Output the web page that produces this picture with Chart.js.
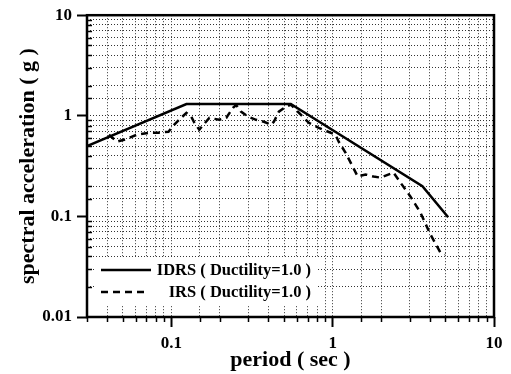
<!DOCTYPE html>
<html>
<head>
<meta charset="utf-8">
<script src="https://cdn.jsdelivr.net/npm/chart.js@4/dist/chart.umd.min.js"></script>
<style>
  html, body { margin: 0; padding: 0; background: #fff; }
  canvas { display: block; }
</style>
</head>
<body>
<canvas id="chart" width="511" height="374"></canvas>
<script>
// values (log-log)
const idrsPeriod = [0.03, 0.124, 0.55, 3.6, 5.2];
const idrsAccel = [0.5, 1.31, 1.31, 0.2, 0.098];

const irsPeriod = [0.041, 0.046, 0.051, 0.061, 0.073, 0.083, 0.096, 0.104, 0.115, 0.124, 0.133, 0.139,
  0.149, 0.158, 0.172, 0.198, 0.219, 0.241, 0.252, 0.27, 0.299, 0.335, 0.375, 0.414, 0.432, 0.464,
  0.513, 0.551, 0.653, 0.711, 0.82, 1.04, 1.09, 1.2, 1.33, 1.43, 1.6, 1.79, 1.98, 2.38, 2.63, 3.03,
  3.49, 4.03, 4.64, 4.99];
const irsAccel = [0.648, 0.553, 0.578, 0.648, 0.679, 0.679, 0.695, 0.815, 0.955, 1.07, 0.978, 0.853,
  0.727, 0.815, 0.955, 0.912, 0.955, 1.2, 1.28, 1.1, 0.978, 0.912, 0.873, 0.815, 0.873, 1.1,
  1.23, 1.29, 0.978, 0.853, 0.76, 0.648, 0.553, 0.431, 0.313, 0.249, 0.261, 0.249, 0.243, 0.273, 0.217, 0.158,
  0.11, 0.0664, 0.0441, 0.0421];

const seriesNames = ['IDRS ( Ductility=1.0 )', 'IRS ( Ductility=1.0 )'];
const xTickLabels = ['0.1', '1', '10'];
const yTickLabels = ['0.01', '0.1', '1', '10'];

const FONT = '"Liberation Serif", "Times New Roman", serif';

function pairs(xs, ys) {
  return xs.map((x, i) => ({ x: x, y: ys[i] }));
}
function isPow10(v) {
  const l = Math.log10(v);
  return Math.abs(l - Math.round(l)) < 1e-6;
}
function labelFor(list, v) {
  const hit = list.find(s => Math.abs(Number(s) - v) < v * 1e-6);
  return hit === undefined ? '' : hit;
}

// frame, minor ticks and in-plot legend
const decor = {
  id: 'decor',
  afterDraw(chart) {
    const ctx = chart.ctx;
    const a = chart.chartArea;
    const xs = chart.scales.x, ys = chart.scales.y;
    ctx.save();
    ctx.strokeStyle = '#000';
    ctx.lineWidth = 1.5;
    ctx.beginPath();
    ys.ticks.forEach(t => {
      if (isPow10(t.value)) return;
      const p = Math.round(ys.getPixelForValue(t.value)) + 0.5;
      ctx.moveTo(a.left, p);
      ctx.lineTo(a.left + 5, p);
    });
    xs.ticks.forEach(t => {
      if (isPow10(t.value)) return;
      const p = Math.round(xs.getPixelForValue(t.value)) + 0.5;
      ctx.moveTo(p, a.bottom);
      ctx.lineTo(p, a.bottom + 5);
    });
    ctx.stroke();

    // legend
    const lx = a.left + 9, ly = a.bottom - 60;
    ctx.fillStyle = '#fff';
    ctx.fillRect(lx, ly, 222, 48);
    ctx.font = 'bold 16.5px ' + FONT;
    ctx.fillStyle = '#000';
    ctx.textAlign = 'right';
    ctx.textBaseline = 'middle';
    const textRight = a.left + 224;
    chart.data.datasets.forEach((ds, i) => {
      const y = ly + 13 + i * 22;
      ctx.beginPath();
      ctx.lineWidth = 2.5;
      ctx.setLineDash(ds.borderDash || []);
      ctx.moveTo(a.left + 14, y);
      ctx.lineTo(a.left + (i === 0 ? 64 : 57), y);
      ctx.stroke();
      ctx.setLineDash([]);
      ctx.fillText(ds.label, textRight, y + 1);
    });

    ctx.lineWidth = 2.5;
    ctx.strokeRect(a.left, a.top, a.right - a.left, a.bottom - a.top);
    ctx.restore();
  }
};

const gridOpts = {
  color: '#333',
  lineWidth: 1,
  drawTicks: true,
  tickLength: 10,
  tickBorderDash: [],
  tickWidth: 2,
  tickColor: c => (c.tick && isPow10(c.tick.value)) ? '#000' : 'rgba(0,0,0,0)'
};
const borderOpts = { display: false, dash: [1, 2] };

new Chart(document.getElementById('chart'), {
  type: 'line',
  data: {
    datasets: [
      {
        label: seriesNames[0],
        data: pairs(idrsPeriod, idrsAccel),
        borderColor: '#000',
        borderWidth: 2.5,
        pointRadius: 0,
        tension: 0,
        fill: false
      },
      {
        label: seriesNames[1],
        data: pairs(irsPeriod, irsAccel),
        borderColor: '#000',
        borderWidth: 2.5,
        borderDash: [7, 5],
        pointRadius: 0,
        tension: 0,
        fill: false
      }
    ]
  },
  options: {
    responsive: false,
    animation: false,
    layout: { padding: { left: 0, right: 17, top: 15, bottom: 0 } },
    plugins: {
      legend: { display: false },
      tooltip: { enabled: false }
    },
    scales: {
      x: {
        type: 'logarithmic',
        min: 0.03,
        max: 10,
        border: borderOpts,
        grid: gridOpts,
        ticks: {
          autoSkip: false,
          maxRotation: 0,
          padding: 6,
          color: '#000',
          font: { family: FONT, size: 17, weight: 'bold' },
          callback: v => labelFor(xTickLabels, v)
        },
        title: {
          display: true,
          text: 'period ( sec )',
          color: '#000',
          font: { family: FONT, size: 22, weight: 'bold' },
          padding: { top: 0, bottom: 0 }
        },
        afterFit: s => { s.height = 57; }
      },
      y: {
        type: 'logarithmic',
        min: 0.01,
        max: 10,
        border: borderOpts,
        grid: gridOpts,
        ticks: {
          autoSkip: false,
          padding: 5,
          color: '#000',
          font: { family: FONT, size: 17, weight: 'bold' },
          callback: v => labelFor(yTickLabels, v)
        },
        title: {
          display: true,
          text: 'spectral acceleration ( g )',
          color: '#000',
          font: { family: FONT, size: 22, weight: 'bold' },
          padding: { top: 15, bottom: 0 }
        },
        afterFit: s => { s.width = 87; }
      }
    }
  },
  plugins: [decor]
});
</script>
</body>
</html>
